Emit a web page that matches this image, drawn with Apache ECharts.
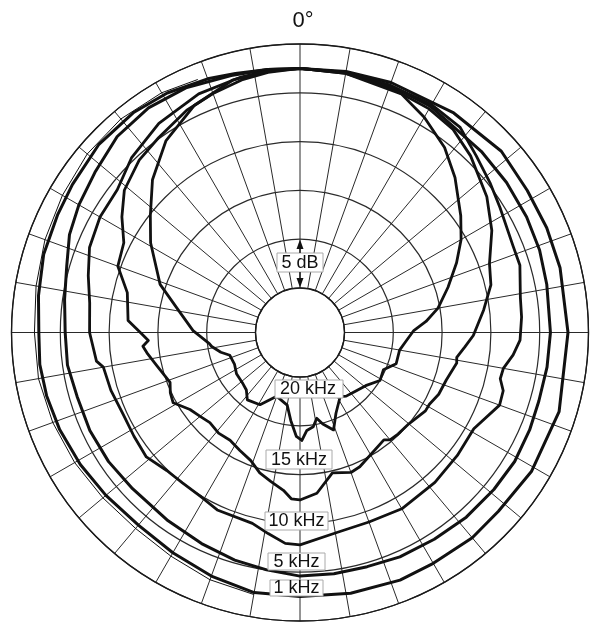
<!DOCTYPE html>
<html>
<head>
<meta charset="utf-8">
<script src="https://cdn.jsdelivr.net/npm/echarts@6/dist/echarts.min.js"></script>
<style>
  html, body { margin: 0; padding: 0; background: #fff; }
  #chart { width: 600px; height: 634px; }
</style>
</head>
<body>
<div id="chart"></div>
<script>
// polar pattern, level in dB, angle clockwise from 0° (top)
const angles1k = [0, 10, 20, 35, 48, 58, 67, 76, 90, 107, 121, 132, 140, 150, 158, 169, 180, 190, 200, 210, 220, 230, 239, 248, 256, 263, 270, 278, 287, 296, 303, 313, 323, 331, 340, 346, 353, 360];
const db1k = [-2.5, -2.4, -2.3, -2.1, -1.8, -2.1, -2.1, -2.1, -2.1, -1.8, -1.9, -2.2, -2.1, -2.25, -2.2, -2.35, -2.5, -2.5, -3.0, -3.5, -3.8, -3.6, -3.3, -3.0, -2.8, -2.7, -2.8, -2.5, -2.1, -1.95, -1.75, -1.35, -1.3, -1.5, -1.9, -2.2, -2.4, -2.5];

// faint second trace beside the 1 kHz curve on the left
const anglesTrace = [190, 200, 210, 220, 230, 240, 250, 260, 270, 280, 290, 300, 310, 320, 330, 338];
const dbTrace = [-2.3, -2.6, -3.1, -3.35, -3.2, -2.9, -2.6, -2.35, -2.35, -2.1, -1.75, -1.45, -1.1, -1.0, -1.2, -1.6];

const angles5k = [0, 10, 20, 30, 45, 54, 63, 71, 79, 90, 98, 106, 113, 121, 129, 138, 147, 156, 164, 172, 180, 188, 196, 205, 215, 227, 236, 245, 254, 262, 270, 278, 286, 293, 300, 308, 317, 326, 335, 345, 353, 360];
const db5k = [-2.5, -2.5, -2.6, -2.8, -3.3, -3.4, -3.5, -3.6, -3.8, -3.9, -4.0, -4.1, -4.0, -3.9, -4.0, -4.1, -4.3, -4.4, -4.6, -4.6, -4.6, -5.0, -5.3, -5.7, -6.0, -6.1, -5.9, -5.8, -5.8, -5.5, -5.5, -5.2, -4.7, -3.9, -3.4, -2.9, -2.1, -1.8, -1.9, -2.3, -2.4, -2.5];

const angles10k = [0, 10, 20, 30, 38, 45, 52, 58, 68, 73, 81, 86, 92, 96, 100, 103, 106, 110, 119, 128, 138, 150, 160, 170, 180, 184, 189, 194, 205, 211, 218, 224, 231, 238, 245, 253, 260, 262, 270, 278, 285, 292, 300, 308, 316, 326, 337, 347, 353, 360];
const db10k = [-2.5, -2.5, -2.6, -2.6, -2.9, -4.0, -4.8, -5.4, -6.0, -6.0, -6.7, -6.8, -7.0, -7.6, -8.4, -8.5, -7.9, -7.8, -9.2, -9.1, -8.9, -8.7, -8.9, -8.7, -7.8, -7.9, -8.7, -9.4, -9.5, -9.9, -10.0, -9.9, -9.3, -9.5, -9.6, -9.3, -9.1, -8.5, -8.0, -7.8, -7.1, -6.3, -5.9, -5.8, -4.7, -3.7, -3.0, -2.7, -2.55, -2.5];

const angles15k = [0, 10, 20, 30, 37, 44, 54, 62, 70, 76, 83, 91, 95, 99, 101, 108, 114, 119, 122, 130, 136, 140, 142, 150, 156, 160, 167, 174, 180, 183, 186, 191, 196, 201, 207, 213, 219, 225, 230, 235, 241, 245, 249, 257, 262, 265, 267, 270, 274, 283, 290, 297, 303, 309, 317, 324, 333, 340, 347, 353, 360];
const db15k = [-2.5, -2.6, -2.8, -3.1, -3.5, -4.4, -5.9, -7.3, -8.9, -9.4, -10.6, -11.8, -12.6, -13.3, -13.2, -13.8, -14.0, -14.4, -14.4, -15.0, -15.1, -15.2, -15.6, -15.1, -14.5, -14.3, -14.8, -13.0, -12.4, -12.5, -13.3, -14.0, -14.6, -15.5, -16.0, -16.4, -16.3, -16.5, -16.2, -15.8, -14.7, -14.9, -15.3, -14.5, -13.8, -13.4, -14.0, -13.2, -11.9, -11.4, -9.7, -9.3, -7.8, -6.4, -5.4, -4.9, -4.0, -3.5, -3.0, -2.7, -2.5];

const angles20k = [0, 10, 23, 30, 38, 45, 54, 60, 66, 73, 80, 85, 89, 95, 100, 108, 114, 121, 129, 137, 144, 148, 156, 161, 166, 169, 172, 176, 179, 182, 186, 190, 200, 209, 218, 223, 228, 237, 244, 252, 256, 261, 263, 271, 279, 289, 301, 308, 316, 325, 335, 345, 352, 360];
const db20k = [-2.5, -2.6, -3.0, -4.1, -5.5, -7.1, -9.2, -10.5, -12.0, -13.7, -15.2, -16.6, -17.9, -18.7, -19.2, -19.2, -20.2, -20.0, -20.9, -21.3, -21.5, -21.8, -20.5, -19.0, -19.9, -20.6, -19.8, -19.5, -18.5, -18.9, -20.5, -22.0, -22.6, -21.1, -20.8, -21.5, -21.7, -21.8, -22.1, -22.0, -21.2, -20.4, -20.2, -18.6, -17.2, -14.4, -11.7, -10.1, -7.8, -5.6, -3.9, -2.8, -2.6, -2.5];

const freqLabels = ['20 kHz', '15 kHz', '10 kHz', '5 kHz', '1 kHz'];

const FONT = '"Liberation Sans", Arial, Helvetica, sans-serif';

function toData(angles, values) {
    return values.map((v, i) => [v, angles[i]]);
}

function curve(name, angles, values, width) {
    return {
        name: name,
        type: 'line',
        coordinateSystem: 'polar',
        showSymbol: false,
        symbol: 'none',
        smooth: false,
        lineStyle: { color: '#111', width: width, join: 'round' },
        data: toData(angles, values),
        z: 3
    };
}

// boxed text, white fill so the grid is hidden behind it
function boxedText(text, x, y, w, h, tx) {
    return [
        {
            type: 'rect', z: 50,
            shape: { x: x, y: y, width: w, height: h },
            style: { fill: '#fff', stroke: '#aaa', lineWidth: 1 }
        },
        {
            type: 'text', z: 51, x: tx, y: y + h / 2 + 0.5,
            style: {
                text: text, fill: '#111', fontSize: 18, fontFamily: FONT,
                align: 'center', verticalAlign: 'middle'
            }
        }
    ];
}

const chart = echarts.init(document.getElementById('chart'));

const graphics = []
    .concat(boxedText(freqLabels[0], 275, 380, 68, 18, 308))
    .concat(boxedText(freqLabels[1], 266, 450, 66, 19, 299))
    .concat(boxedText(freqLabels[2], 265, 512, 63, 18, 296.5))
    .concat(boxedText(freqLabels[3], 268, 553, 57, 17, 296.5))
    .concat(boxedText(freqLabels[4], 270, 580, 53, 16, 296.5))
    .concat(boxedText('5 dB', 277, 253, 46, 19, 300))
    .concat([
        // 5 dB arrows
        { type: 'line', z: 52, shape: { x1: 300, y1: 253, x2: 300, y2: 245 }, style: { stroke: '#111', lineWidth: 1.3 } },
        { type: 'polygon', z: 52, shape: { points: [[300, 239.5], [296.5, 249], [303.5, 249]] }, style: { fill: '#111' } },
        { type: 'line', z: 52, shape: { x1: 300, y1: 272, x2: 300, y2: 280 }, style: { stroke: '#111', lineWidth: 1.3 } },
        { type: 'polygon', z: 52, shape: { points: [[300, 287.5], [296.5, 278], [303.5, 278]] }, style: { fill: '#111' } },
        {
            type: 'text', z: 52, x: 303, y: 21,
            style: { text: '0°', fill: '#111', fontSize: 22, fontFamily: FONT, align: 'center', verticalAlign: 'middle' }
        }
    ]);

chart.setOption({
    animation: false,
    backgroundColor: '#fff',
    polar: {
        center: [300, 332.5],
        radius: [44.5, 288.5]
    },
    angleAxis: {
        type: 'value',
        min: 0,
        max: 360,
        interval: 10,
        startAngle: 90,
        clockwise: true,
        axisLine: { show: true, lineStyle: { color: '#1a1a1a', width: 1.3 } },
        axisTick: { show: false },
        axisLabel: { show: false },
        splitLine: { show: true, lineStyle: { color: '#2a2a2a', width: 1 } }
    },
    radiusAxis: {
        type: 'value',
        min: -25,
        max: 0,
        interval: 5,
        axisLine: { show: false },
        axisTick: { show: false },
        axisLabel: { show: false },
        splitLine: { show: true, lineStyle: { color: '#2a2a2a', width: 1.2 } }
    },
    series: [
        curve('1 kHz', angles1k, db1k, 3),
        curve('1 kHz trace', anglesTrace, dbTrace, 1),
        curve('5 kHz', angles5k, db5k, 3),
        curve('10 kHz', angles10k, db10k, 2.8),
        curve('15 kHz', angles15k, db15k, 2.8),
        curve('20 kHz', angles20k, db20k, 2.8)
    ],
    graphic: graphics
});
</script>
</body>
</html>
